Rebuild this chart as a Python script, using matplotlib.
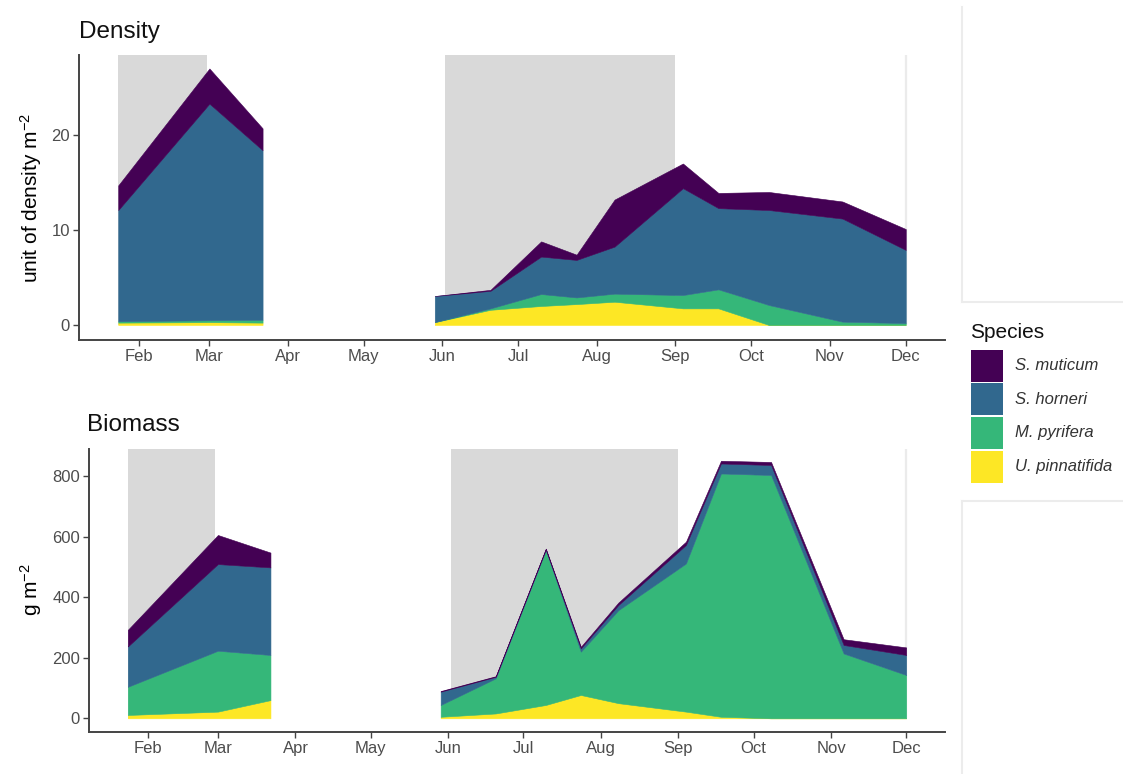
import numpy as np
import pandas as pd
import matplotlib
matplotlib.use('Agg')
import matplotlib.pyplot as plt
import matplotlib.dates as mdates
from matplotlib.patches import Rectangle
from matplotlib.lines import Line2D

plt.rcParams['font.family'] = ['Liberation Sans', 'DejaVu Sans']
plt.rcParams['mathtext.fontset'] = 'custom'
plt.rcParams['mathtext.rm'] = 'Liberation Sans'
plt.rcParams['mathtext.it'] = 'Liberation Sans:italic'

# sampling dates (two survey periods)
sample_dates = pd.to_datetime(['2019-01-24', '2019-03-01', '2019-03-22',
                               '2019-05-29', '2019-06-20', '2019-07-10', '2019-07-24',
                               '2019-08-08', '2019-09-04', '2019-09-18', '2019-10-08',
                               '2019-11-06', '2019-12-01'])

species = ['S. muticum', 'S. horneri', 'M. pyrifera', 'U. pinnatifida']
colours = ['#440154', '#31688E', '#35B779', '#FDE725']

# density, unit of density m-2
dens_muticum     = [2.6, 3.7, 2.3, 0.0, 0.1, 1.6, 0.55, 4.95, 2.6, 1.6, 1.9, 1.8, 2.2]
dens_horneri     = [11.7, 22.8, 17.85, 2.75, 1.85, 3.94, 3.95, 4.95, 11.25, 8.55, 10.0, 10.85, 7.7]
dens_pyrifera    = [0.15, 0.2, 0.3, 0.0, 0.15, 1.26, 0.7, 0.85, 1.4, 2.0, 2.1, 0.35, 0.2]
dens_pinnatifida = [0.25, 0.3, 0.25, 0.3, 1.6, 2.0, 2.2, 2.45, 1.75, 1.75, 0.0, 0.0, 0.0]

# biomass, g m-2
bio_muticum     = [55, 96, 49, 2, 2, 2, 5, 8, 11, 9, 10, 19, 25]
bio_horneri     = [133, 286, 289, 44, 5, 3, 11, 17, 61, 33, 33, 28, 66]
bio_pyrifera    = [93, 201, 149, 39, 116, 511, 143, 307, 489, 803, 803, 214, 143]
bio_pinnatifida = [11, 22, 60, 5, 16, 44, 77, 50, 22, 5, 0, 0, 0]

# shaded seasons
season_start = pd.to_datetime(['2019-01-24', '2019-06-02'])
season_end = pd.to_datetime(['2019-02-28', '2019-09-01'])
season_next = pd.Timestamp('2019-12-01')

month_ticks = pd.date_range('2019-02-01', '2019-12-01', freq='MS')

pad = pd.Timedelta(days=15.5)
xlo = sample_dates.min() - pad
xhi = sample_dates.max() + pad

W, H = 1123, 774
fig = plt.figure(figsize=(W / 100, H / 100), dpi=100)


def box(l, t, r, b):
    return [l / W, 1 - b / H, (r - l) / W, (b - t) / H]


def draw_panel(ax, layers, ylim, yticks):
    x_all = mdates.date2num(sample_dates)
    ax.set_xlim(mdates.date2num(xlo), mdates.date2num(xhi))
    ax.set_ylim(*ylim)
    for s, e in zip(season_start, season_end):
        ax.fill_between(mdates.date2num([s, e]), 0, ylim[1], color='#d9d9d9', lw=0, zorder=0)
    ax.vlines(mdates.date2num(season_next), 0, ylim[1], color='#ebebeb', lw=1.6, zorder=0)

    # break the areas where there was no sampling for two months
    gaps = np.where(np.diff(x_all) > 60)[0] + 1
    for idx in np.split(np.arange(len(x_all)), gaps):
        x = x_all[idx]
        base = np.zeros(len(idx))
        # stack from the bottom: U. pinnatifida first
        for vals, col in zip(layers[::-1], colours[::-1]):
            top = base + np.asarray(vals, dtype=float)[idx]
            ax.fill_between(x, base, top, facecolor=col, edgecolor=col, lw=0.4, zorder=2)
            base = top

    ax.set_xticks(mdates.date2num(month_ticks))
    ax.set_xticklabels([d.strftime('%b') for d in month_ticks])
    ax.set_yticks(yticks)
    for sp in ['top', 'right']:
        ax.spines[sp].set_visible(False)
    for sp in ['left', 'bottom']:
        ax.spines[sp].set_color('#444444')
        ax.spines[sp].set_linewidth(1.4)
    ax.tick_params(length=4, width=1, color='#444444', labelcolor='#4d4d4d',
                   labelsize=12, pad=2.5)


ax1 = fig.add_axes(box(79, 55, 945, 340))
draw_panel(ax1, [dens_muticum, dens_horneri, dens_pyrifera, dens_pinnatifida],
           (-1.58, 28.42), [0, 10, 20])

ax2 = fig.add_axes(box(89, 449, 945, 731.7))
draw_panel(ax2, [bio_muticum, bio_horneri, bio_pyrifera, bio_pinnatifida],
           (-44.2, 888.8), [0, 200, 400, 600, 800])

# panel titles and axis titles
fig.text(79 / W, 1 - 38 / H, 'Density', fontsize=17.5, color='#111111', va='baseline')
fig.text(87 / W, 1 - 431 / H, 'Biomass', fontsize=17.5, color='#111111', va='baseline')
fig.text(31 / W, 1 - 198 / H, r'unit of density m$^{\mathregular{-2}}$', fontsize=15,
         rotation=90, ha='center', va='center')
fig.text(31 / W, 1 - 590 / H, r'g m$^{\mathregular{-2}}$', fontsize=15,
         rotation=90, ha='center', va='center')

# faint frames around the legend area
for (x0, y0, x1, y1) in [(962, 7, 962, 302), (962, 302, W, 302),
                         (962, 500.7, W, 500.7), (962, 500.7, 962, H)]:
    fig.add_artist(Line2D([x0 / W, x1 / W], [1 - y0 / H, 1 - y1 / H],
                          transform=fig.transFigure, color='#ececec', lw=1.5))

# legend
fig.text(970 / W, 1 - 338 / H, 'Species', fontsize=15, color='#111111', va='baseline')
for i, (name, col) in enumerate(zip(species, colours)):
    top = 350 + i * 33.5
    fig.add_artist(Rectangle((971 / W, 1 - (top + 32) / H), 32 / W, 32 / H,
                             transform=fig.transFigure, facecolor=col, edgecolor='none'))
    fig.text(1015 / W, 1 - (top + 16) / H, name, fontsize=12, style='italic',
             color='#333333', va='center')

fig.savefig('out.png', dpi=100)
